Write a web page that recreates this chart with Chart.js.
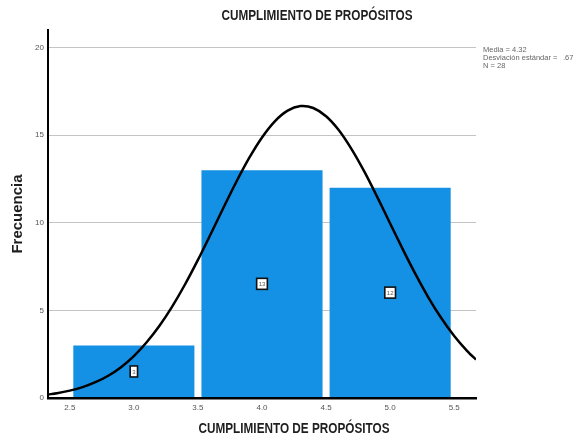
<!DOCTYPE html>
<html>
<head>
<meta charset="utf-8">
<script src="https://cdn.jsdelivr.net/npm/chart.js@4/dist/chart.umd.min.js"></script>
<style>
  html, body { margin: 0; padding: 0; background: #fff; }
  #wrap { width: 573px; height: 439px; position: relative; }
</style>
</head>
<body>
<div id="wrap"><canvas id="c"></canvas></div>
<script>
// Histogram bins (centre of each bin) and their frequencies
const binCenters = [3.0, 4.0, 5.0];
const binCounts = [3, 13, 12];

// Tick labels
const xTicks = [2.5, 3.0, 3.5, 4.0, 4.5, 5.0, 5.5];
const yTicks = [0, 5, 10, 15, 20];

// Normal curve overlay (x, expected frequency)
const curveX = [2.33, 2.4, 2.5, 2.6, 2.7, 2.8, 2.9, 3.0, 3.1, 3.2, 3.3, 3.4, 3.5, 3.6, 3.7, 3.8, 3.9, 4.0,
                4.1, 4.2, 4.3, 4.4, 4.5, 4.6, 4.7, 4.8, 4.9, 5.0, 5.1, 5.2, 5.3, 5.4, 5.5, 5.6, 5.67];
const curveY = [0.2, 0.27, 0.42, 0.62, 0.9, 1.27, 1.76, 2.39, 3.18, 4.12, 5.23, 6.49, 7.88, 9.36, 10.87, 12.34, 13.7, 14.87,
                15.79, 16.4, 16.66, 16.55, 16.08, 15.28, 14.19, 12.9, 11.46, 9.96, 8.47, 7.04, 5.72, 4.55, 3.54, 2.69, 2.19];

// Summary statistics
const statLines = ['Media = 4.32', 'Desviación estándar =', 'N = 28'];
const statValues = ['', '.67', ''];

const titleText = 'CUMPLIMIENTO DE PROPÓSITOS';
const xTitle = 'CUMPLIMIENTO DE PROPÓSITOS';
const yTitle = 'Frecuencia';

const SANS = "'Liberation Sans', Arial, sans-serif";

// Draws bold text squeezed horizontally (narrow look)
function narrowText(ctx, text, cx, cy, size, squeeze) {
  ctx.save();
  ctx.font = 'bold ' + size + 'px ' + SANS;
  ctx.fillStyle = '#1e1e1e';
  ctx.textAlign = 'center';
  ctx.textBaseline = 'middle';
  ctx.translate(cx, cy);
  ctx.scale(squeeze, 1);
  ctx.fillText(text, 0, 0);
  ctx.restore();
}

// Value boxes in the middle of each bar
const barLabels = {
  id: 'barLabels',
  afterDatasetsDraw(chart) {
    const ctx = chart.ctx;
    const meta = chart.getDatasetMeta(0);
    ctx.save();
    ctx.font = '6px ' + SANS;
    ctx.textAlign = 'center';
    ctx.textBaseline = 'middle';
    meta.data.forEach((el, i) => {
      const txt = String(binCounts[i]);
      const cx = el.x;
      const cy = (el.y + el.base) / 2;
      const w = Math.max(ctx.measureText(txt).width + 4, 7);
      const h = 11;
      ctx.fillStyle = '#fff';
      ctx.strokeStyle = '#111';
      ctx.lineWidth = 1.6;
      ctx.fillRect(cx - w / 2, cy - h / 2, w, h);
      ctx.strokeRect(cx - w / 2, cy - h / 2, w, h);
      ctx.fillStyle = '#555';
      ctx.fillText(txt, cx, cy + 0.5);
    });
    ctx.restore();
  }
};

// Chart title, x-axis title and the statistics block
const textBlocks = {
  id: 'textBlocks',
  afterDraw(chart) {
    const ctx = chart.ctx;
    const area = chart.chartArea;
    narrowText(ctx, titleText, 317, 16, 14, 0.84);
    narrowText(ctx, xTitle, 294, 429, 14, 0.84);

    const x0 = area.right + 7;
    const y0 = area.top + 20;
    ctx.save();
    ctx.font = '7.5px ' + SANS;
    ctx.fillStyle = '#666';
    ctx.textBaseline = 'middle';
    ctx.textAlign = 'left';
    statLines.forEach((t, i) => {
      ctx.fillText(t, x0, y0 + i * 8);
      if (statValues[i]) ctx.fillText(statValues[i], x0 + 80, y0 + i * 8);
    });
    ctx.restore();
  }
};

const xMin = 2.33, xMax = 5.67;

new Chart(document.getElementById('c'), {
  type: 'bar',
  data: {
    datasets: [
      {
        type: 'bar',
        xAxisID: 'xBar',
        yAxisID: 'y',
        data: binCenters.map((x, i) => ({ x: x, y: binCounts[i] })),
        backgroundColor: '#1490e4',
        borderWidth: 0,
        grouped: false,
        barPercentage: 0.945,
        categoryPercentage: 1,
        order: 2
      },
      {
        type: 'line',
        xAxisID: 'x',
        yAxisID: 'y',
        data: curveX.map((x, i) => ({ x: x, y: curveY[i] })),
        borderColor: '#000',
        borderWidth: 2.5,
        pointRadius: 0,
        fill: false,
        tension: 0.3,
        order: 0
      }
    ]
  },
  options: {
    responsive: true,
    maintainAspectRatio: false,
    animation: false,
    devicePixelRatio: 1,
    layout: { padding: { left: 0, right: 97, top: 30, bottom: 0 } },
    plugins: {
      legend: { display: false },
      tooltip: { enabled: false },
      title: { display: false }
    },
    scales: {
      x: {
        type: 'linear',
        position: 'bottom',
        min: xMin,
        max: xMax,
        offset: false,
        afterBuildTicks: s => { s.ticks = xTicks.map(v => ({ value: v })); },
        afterFit: s => { s.height = 41; },
        ticks: {
          autoSkip: false,
          maxRotation: 0,
          padding: 5,
          color: '#555',
          font: { family: SANS, size: 8 },
          callback: v => Number(v).toFixed(1)
        },
        grid: { display: false, drawTicks: false, offset: false },
        border: { display: true, color: '#000', width: 2.5, z: 1 },
        title: { display: false }
      },
      xBar: {
        type: 'linear',
        display: false,
        min: xMin,
        max: xMax,
        offset: false,
        afterBuildTicks: s => { s.ticks = binCenters.map(v => ({ value: v })); },
        grid: { offset: false }
      },
      y: {
        type: 'linear',
        position: 'left',
        min: 0,
        max: 21,
        afterBuildTicks: s => { s.ticks = yTicks.map(v => ({ value: v })); },
        afterFit: s => { s.width = 48; },
        ticks: {
          padding: 4,
          color: '#555',
          font: { family: SANS, size: 8 }
        },
        grid: { color: '#c4c4c4', lineWidth: 1, drawTicks: false },
        border: { display: true, color: '#000', width: 2 },
        title: {
          display: true,
          text: yTitle,
          color: '#1e1e1e',
          font: { family: SANS, size: 15, weight: 'bold' },
          padding: { top: 9, bottom: 0 }
        }
      }
    }
  },
  plugins: [barLabels, textBlocks]
});
</script>
</body>
</html>
